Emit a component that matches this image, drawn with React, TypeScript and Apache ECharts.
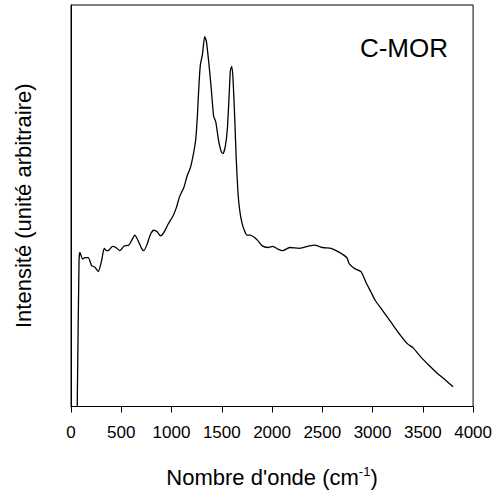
import React, { useEffect, useRef } from "react";
import * as echarts from "echarts";

const wavenumbers = [62, 80, 89, 116, 139, 172, 205, 238, 271, 304, 331, 354, 380, 413, 447, 486, 526, 576, 602, 635, 668, 702, 724, 757, 791, 824, 857, 890, 923, 966, 1016, 1049, 1082, 1122, 1155, 1188, 1214, 1241, 1257, 1274, 1287, 1307, 1330, 1347, 1373, 1396, 1419, 1439, 1452, 1472, 1496, 1512, 1535, 1555, 1571, 1585, 1598, 1611, 1628, 1644, 1661, 1677, 1700, 1727, 1750, 1783, 1826, 1859, 1902, 1958, 2008, 2058, 2107, 2174, 2273, 2372, 2422, 2504, 2588, 2670, 2743, 2769, 2819, 2885, 2935, 2984, 3027, 3100, 3183, 3266, 3348, 3404, 3481, 3563, 3646, 3729, 3801];
const intensities = [0, 36.5, 38.4, 36.7, 37.1, 37.1, 35.1, 34.7, 33.6, 36.3, 39.4, 38.8, 39.0, 39.9, 39.6, 38.8, 39.9, 40.2, 41.3, 42.7, 41.3, 39.4, 38.8, 40.4, 42.9, 43.9, 43.5, 42.5, 43.3, 45.4, 47.5, 49.6, 52.4, 54.5, 57.4, 59.5, 62.4, 66.5, 72.3, 80.6, 85.1, 87.6, 92.1, 90.9, 85.1, 78.9, 72.3, 71.0, 69.0, 65.7, 63.4, 63.0, 64.8, 69.0, 76.4, 83.5, 84.7, 81.9, 72.3, 61.5, 53.3, 49.1, 45.8, 43.7, 42.7, 42.7, 42.1, 41.3, 40.0, 39.6, 39.9, 39.2, 38.8, 39.6, 39.4, 40.0, 40.2, 39.6, 39.4, 38.4, 37.1, 35.5, 34.4, 33.6, 30.9, 28.5, 26.4, 23.9, 21.0, 18.1, 15.6, 14.6, 12.3, 10.2, 8.2, 6.5, 4.9];
const xTicks = [0, 500, 1000, 1500, 2000, 2500, 3000, 3500, 4000];
const sampleLabel = "C-MOR";

export default function App() {
  const ref = useRef<HTMLDivElement>(null);
  useEffect(() => {
    const chart = echarts.init(ref.current!, null, { renderer: "svg" });
    const font = "'Liberation Sans', Arial, sans-serif";
    chart.setOption({
      animation: false,
      backgroundColor: "#fff",
      textStyle: { fontFamily: font },
      grid: { left: 71, right: 21, top: 5, bottom: 84, show: true, borderColor: "#000", borderWidth: 1, backgroundColor: "transparent" },
      xAxis: {
        type: "value",
        min: xTicks[0],
        max: xTicks[xTicks.length - 1],
        interval: 500,
        axisLine: { show: true, lineStyle: { color: "#000", width: 1 } },
        axisTick: { show: true, inside: false, length: 6, lineStyle: { color: "#000" } },
        axisLabel: { color: "#000", fontSize: 17, margin: 17, fontFamily: font, formatter: (v: number) => String(v) },
        splitLine: { show: false },
        name: "Nombre d'onde (cm{sup|-1})",
        nameLocation: "middle",
        nameGap: 58,
        nameTextStyle: {
          color: "#000", fontSize: 22, fontFamily: font,
          rich: { sup: { fontSize: 13, color: "#000", fontFamily: font, verticalAlign: "top", padding: [0, 0, 12, 0] } },
        },
      },
      yAxis: {
        type: "value",
        min: 0,
        max: 100,
        axisLine: { show: true, lineStyle: { color: "#000" } },
        axisTick: { show: false },
        axisLabel: { show: false },
        splitLine: { show: false },
        name: "Intensité (unité arbitraire)",
        nameLocation: "middle",
        nameGap: 37,
        nameTextStyle: { color: "#000", fontSize: 22, fontFamily: font },
      },
      graphic: [
        { type: "text", x: 448, y: 48, style: { text: sampleLabel, fontSize: 26, fill: "#000", fontFamily: font, align: "right", verticalAlign: "middle" } },
      ],
      series: [
        {
          type: "line",
          data: wavenumbers.map((w, i) => [w, intensities[i]]),
          showSymbol: false,
          smooth: 0.2,
          lineStyle: { color: "#000", width: 1.3 },
        },
      ],
    });
    return () => chart.dispose();
  }, []);
  return <div ref={ref} style={{ position: "fixed", left: 0, top: 0, width: 495, height: 493 }} />;
}
